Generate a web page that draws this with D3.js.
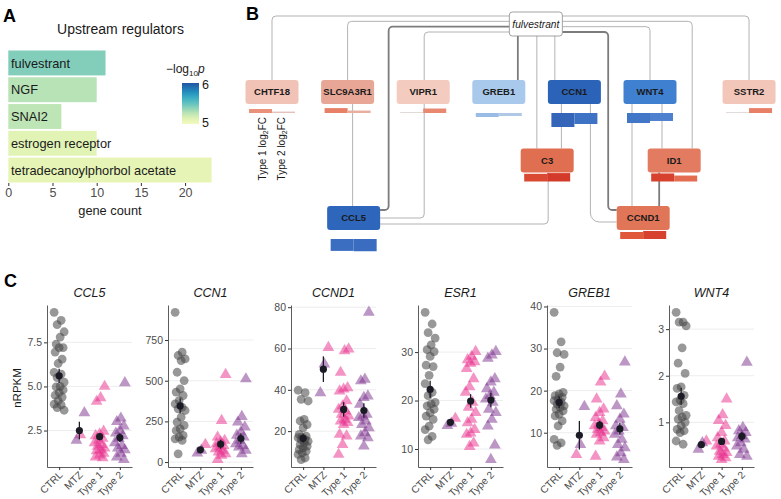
<!DOCTYPE html>
<html>
<head>
<meta charset="utf-8">
<script src="https://cdn.jsdelivr.net/npm/d3@7"></script>
<style>
  body { margin: 0; background: #fff; }
  text { font-family: "Liberation Sans", Arial, Helvetica, sans-serif; }
</style>
</head>
<body>
<svg id="fig" width="781" height="499"></svg>
<script>
// ---------- A: upstream regulators
var regulators = ['fulvestrant', 'NGF', 'SNAI2', 'estrogen receptor', 'tetradecanoylphorbol acetate']
var geneCount = [11, 10, 6, 10, 23]
var negLogP = [5.41, 5.25, 5.23, 5.075, 5.045]
var countTicks = [0, 5, 10, 15, 20]
var legendTicks = [5, 6]

// ---------- B: fulvestrant network
var geneNodes = ['CHTF18', 'SLC9A3R1', 'VIPR1', 'GREB1', 'CCN1', 'WNT4', 'SSTR2', 'C3', 'ID1', 'CCND1', 'CCL5']
var type1FC = [0.57, 0.7, 0.05, -0.57, -2.0, -1.43, 0.04, 1.1, 1.15, 1.0, -1.7]
var type2FC = [0.2, 0.35, 0.64, -0.43, -1.57, -1.14, 0.7, 1.2, 0.85, 1.15, -1.75]
var edges = [
  ['fulvestrant', 'CHTF18', 1], ['fulvestrant', 'SLC9A3R1', 1], ['fulvestrant', 'CCL5', 2],
  ['fulvestrant', 'VIPR1', 1], ['fulvestrant', 'GREB1', 2], ['fulvestrant', 'C3', 1],
  ['fulvestrant', 'CCN1', 1], ['fulvestrant', 'WNT4', 1], ['fulvestrant', 'ID1', 1],
  ['fulvestrant', 'SSTR2', 1], ['fulvestrant', 'CCND1', 2],
  ['SLC9A3R1', 'CCL5', 1], ['VIPR1', 'CCL5', 1], ['C3', 'CCL5', 1], ['CCN1', 'C3', 1],
  ['CCN1', 'CCND1', 1], ['WNT4', 'CCND1', 1], ['WNT4', 'ID1', 1], ['ID1', 'CCND1', 2]
]

// ---------- C: expression per group
var genes = ['CCL5', 'CCN1', 'CCND1', 'ESR1', 'GREB1', 'WNT4']
var groups = ['CTRL', 'MTZ', 'Type 1', 'Type 2']
var ctrlValues = [
  [9.2, 8.75, 8.5, 8.1, 7.8, 7.4, 7.2, 7.2, 6.95, 6.55, 6.3, 5.8, 5.7, 5.5, 5.25, 5.0, 4.97, 4.8, 4.65, 4.5, 4.4, 4.2, 4.0, 3.95, 3.8, 3.65],
  [920, 675, 655, 634, 624, 552, 501, 450, 430, 409, 378, 358, 337, 327, 317, 276, 245, 225, 204, 194, 164, 153, 143, 133, 51],
  [39.8, 38.6, 35.4, 34.6, 25.7, 24.9, 23.2, 21.6, 18.4, 17.6, 17.1, 16.8, 15.9, 15.9, 15.1, 14.3, 13.5, 12.7, 11.9, 11.1, 10.3, 9.5, 8.7, 7.0, 6.2],
  [38.2, 35.8, 34, 32.9, 31.5, 30.5, 30.1, 29.1, 27.3, 27, 25.2, 23.5, 21.7, 21, 19.6, 19.3, 18.9, 18.2, 17.5, 16.8, 16.1, 14.7, 14, 12.6, 11.9],
  [38.6, 31.6, 29, 28.6, 25.6, 23.4, 19.6, 19.2, 18.8, 18.4, 18, 17.6, 17.2, 16.8, 16.4, 16, 15.6, 15.2, 14.4, 14, 12.8, 11.6, 8.4, 7.6, 7],
  [3.36, 3.15, 3.15, 3.07, 2.6, 2.27, 2.05, 1.76, 1.73, 1.58, 1.47, 1.44, 1.4, 1.25, 1.15, 1.11, 1.07, 1.0, 0.93, 0.85, 0.82, 0.78, 0.6, 0.53]
]
var mtzValues = [
  [3.5, 2.25, 1.95], [108, 72, 55], [60.5, 52.5, 38.5],
  [16.3, 15.3, 14.8], [16.2, 7.2, 4.8], [0.6, 0.56, 0.42]
]
var mtzSubtype = [[2, 1, 2], [1, 2, 2], [1, 2, 2], [1, 2, 2], [2, 2, 1], [1, 2, 2]]
var type1Values = [
  [5.0, 4.35, 4.15, 2.45, 2.3, 2.2, 2.05, 1.95, 1.8, 1.7, 1.6, 1.5, 1.4, 1.35, 1.2, 1.1, 1.0, 0.95],
  [538, 255, 153, 133, 123, 112, 102, 92, 82, 72, 61, 51, 41, 15],
  [59.7, 58.9, 48.4, 41, 40.3, 39.4, 34.6, 32.2, 30.5, 29.7, 28.1, 27.3, 25.7, 24.9, 24.1, 23.2, 18.4, 17.6, 13.5, 8.7],
  [30.1, 29.1, 28.4, 28, 27.7, 26.6, 24.5, 22.8, 21.7, 19.6, 18.6, 17.5, 16.1, 15.4, 14, 13.3, 13, 11.2, 10.5],
  [23.4, 22, 18, 15.6, 14.8, 13.6, 12.8, 12, 11.6, 11.2, 10.8, 10.4, 10, 9.6, 8.8, 8, 4.4],
  [1.5, 1.16, 1.04, 0.93, 0.78, 0.67, 0.6, 0.53, 0.49, 0.45, 0.38, 0.35, 0.31, 0.27, 0.24, 0.2]
]
var type2Values = [
  [5.2, 3.2, 3.0, 2.75, 2.5, 2.35, 2.2, 2.05, 1.8, 1.65, 1.5, 1.4, 1.2, 1.0, 0.85],
  [511, 280, 245, 215, 184, 164, 153, 133, 112, 102, 92, 72, 51],
  [77.5, 45.1, 44.3, 37, 36.2, 33, 28.1, 27.3, 26.5, 24.9, 23.2, 21.6, 19.2, 17.6, 16.8, 12.7],
  [30.1, 29.4, 28.7, 24.5, 23.8, 22.4, 21.7, 21, 20.3, 19.6, 18.2, 17.5, 16.1, 14.7, 10.8, 7.8],
  [26.8, 19.2, 16.4, 14.4, 13.2, 11.6, 11.2, 10.4, 9.6, 8.4, 7.2, 6.4, 5.2, 4.2, 3.6],
  [2.29, 0.89, 0.82, 0.78, 0.71, 0.67, 0.64, 0.56, 0.49, 0.42, 0.31, 0.27]
]
// mean and standard error per group (CTRL, MTZ, Type 1, Type 2)
var groupMeans = [[5.6, 2.5, 2.15, 2.1], [345, 75, 110, 145], [16.5, 50, 30.5, 30], [22.3, 15.5, 19.9, 20.1], [17.2, 9.4, 11.8, 10.9], [1.56, 0.52, 0.59, 0.7]]
var groupSE = [[0.4, 0.5, 0.2, 0.25], [45, 10, 28, 32], [2, 6.2, 3.5, 3.5], [1.8, 0.5, 1.4, 1.5], [1.4, 3.4, 1, 1.4], [0.18, 0.04, 0.07, 0.1]]
var yTicks = [[2.5, 5, 7.5], [0, 250, 500, 750], [20, 40, 60, 80], [10, 20, 30], [10, 20, 30, 40], [1, 2, 3]]

var svg = d3.select('#fig')

function panelLabel(t, x, y) {
  svg.append('text').attr('x', x).attr('y', y).text(t)
    .attr('font-size', 18).attr('font-weight', 'bold').attr('fill', '#000')
}

// ================= A
panelLabel('A', 3, 22)
var gA = svg.append('g')
var xA = d3.scaleLinear().domain([0, 23]).range([8.3, 211.6])
var yA = d3.scaleBand().domain(regulators).range([50.5, 182.5]).paddingInner(0.07)
var pColor = d3.scaleSequential(function (t) { return d3.interpolateYlGnBu(0.08 + 0.7 * t) }).domain([4.95, 6.05])

gA.append('text').attr('x', 120.5).attr('y', 33.5).attr('text-anchor', 'middle')
  .attr('font-size', 14).attr('fill', '#1a1a1a').text('Upstream regulators')

gA.selectAll('rect.bar').data(regulators).enter().append('rect')
  .attr('class', 'bar')
  .attr('x', xA(0))
  .attr('y', function (d) { return yA(d) })
  .attr('width', function (d, i) { return xA(geneCount[i]) - xA(0) })
  .attr('height', yA.bandwidth())
  .attr('fill', function (d, i) { return pColor(negLogP[i]) })

gA.selectAll('text.lab').data(regulators).enter().append('text')
  .attr('class', 'lab')
  .attr('x', 11)
  .attr('y', function (d) { return yA(d) + yA.bandwidth() / 2 })
  .attr('dy', '0.36em')
  .attr('font-size', 12.8).attr('fill', '#1a1a1a')
  .text(function (d) { return d })

var axA = gA.append('g').attr('transform', 'translate(0,183)')
  .call(d3.axisBottom(xA).tickValues(countTicks).tickSize(3).tickPadding(2))
axA.select('.domain').remove()
axA.selectAll('line').attr('stroke', '#333')
axA.selectAll('text').attr('font-size', 12.5).attr('fill', '#4d4d4d')
gA.append('text').attr('x', xA(11.5)).attr('y', 215).attr('text-anchor', 'middle')
  .attr('font-size', 12.8).attr('fill', '#1a1a1a').text('gene count')

// legend
var grad = svg.append('defs').append('linearGradient').attr('id', 'pgrad')
  .attr('x1', 0).attr('y1', 1).attr('x2', 0).attr('y2', 0)
d3.range(0, 1.01, 0.1).forEach(function (t) {
  grad.append('stop').attr('offset', t).attr('stop-color', pColor(4.95 + t * 1.1))
})
var yLeg = d3.scaleLinear().domain([4.95, 6.05]).range([124, 83])
gA.append('rect').attr('x', 182).attr('y', yLeg(6.05)).attr('width', 17)
  .attr('height', yLeg(4.95) - yLeg(6.05)).attr('fill', 'url(#pgrad)')
gA.selectAll('text.leg').data(legendTicks).enter().append('text')
  .attr('x', 202).attr('y', function (d) { return yLeg(d) }).attr('dy', '0.36em')
  .attr('font-size', 12.5).attr('fill', '#1a1a1a').text(function (d) { return d })
var lt = gA.append('text').attr('x', 166).attr('y', 73).attr('font-size', 12).attr('fill', '#1a1a1a')
lt.append('tspan').text('\u2212log')
lt.append('tspan').attr('font-size', 8).attr('dy', 3).text('10')
lt.append('tspan').attr('font-style', 'italic').attr('dy', -3).text('p')

// ================= B
panelLabel('B', 246, 20)
var gB = svg.append('g')
var nodeGrid = {
  fulvestrant: [3.49, 0], CHTF18: [0, 1], SLC9A3R1: [1, 1], VIPR1: [2, 1], GREB1: [3, 1],
  CCN1: [4, 1], WNT4: [5, 1], SSTR2: [6.31, 1], C3: [3.64, 2], ID1: [5.32, 2],
  CCND1: [4.91, 3], CCL5: [1.08, 3]
}
var xB = d3.scaleLinear().domain([0, 1]).range([272, 347.6])
var yB = d3.scaleLinear().domain([0, 1, 2, 3]).range([24, 92, 160.5, 218])
var boxW = 53, boxH = 24
function pos(n) { return [xB(nodeGrid[n][0]), yB(nodeGrid[n][1])] }

// edge routing: lane = horizontal track leaving fulvestrant, drop = vertical offset from source centre,
// dx = offset of vertical run from target centre, side = enter target from its side at this y offset
var laneY = d3.scaleLinear().domain([0, 3]).range([16, 32])
var routes = {
  'fulvestrant-CHTF18': { lane: 0 }, 'fulvestrant-SLC9A3R1': { lane: 1 },
  'fulvestrant-CCL5': { lane: 2, dx: 35, side: -8 }, 'fulvestrant-VIPR1': { lane: 3, dx: 1 },
  'fulvestrant-GREB1': { drop: -18 }, 'fulvestrant-C3': { drop: 1 }, 'fulvestrant-CCN1': { drop: 19 },
  'fulvestrant-WNT4': { lane: 2 }, 'fulvestrant-ID1': { lane: 1, dx: 18 },
  'fulvestrant-SSTR2': { lane: 0 }, 'fulvestrant-CCND1': { lane: 3, dx: -35, side: -8 },
  'SLC9A3R1-CCL5': { drop: 5 }, 'VIPR1-CCL5': { drop: 1, side: 0 }, 'C3-CCL5': { drop: 1, side: 6 },
  'CCN1-C3': { drop: -13 }, 'CCN1-CCND1': { drop: 16, side: 4, r: 9 },
  'WNT4-CCND1': { drop: -18 }, 'WNT4-ID1': { drop: 12 }, 'ID1-CCND1': { drop: -15 }
}

function roundedPath(pts, r) {
  var p = d3.path()
  p.moveTo(pts[0][0], pts[0][1])
  for (var i = 1; i < pts.length - 1; i++) p.arcTo(pts[i][0], pts[i][1], pts[i + 1][0], pts[i + 1][1], r)
  p.lineTo(pts[pts.length - 1][0], pts[pts.length - 1][1])
  return p.toString()
}

function edgePath(e) {
  var rt = routes[e[0] + '-' + e[1]], s = pos(e[0]), t = pos(e[1]), pts
  var x1, y0
  if (rt.lane !== undefined) {
    y0 = laneY(rt.lane)
    var sx = t[0] < s[0] ? s[0] - boxW / 2 : s[0] + boxW / 2
    x1 = t[0] + (rt.dx || 0)
    pts = [[sx, y0], [x1, y0]]
  } else {
    x1 = s[0] + rt.drop
    pts = [[x1, s[1] + boxH / 2]]
  }
  if (rt.side !== undefined) {
    var ex = x1 > t[0] ? t[0] + boxW / 2 : t[0] - boxW / 2
    pts.push([x1, t[1] + rt.side], [ex, t[1] + rt.side])
  } else {
    pts.push([x1, t[1] - boxH / 2])
  }
  return roundedPath(pts, rt.r || 4)
}

gB.selectAll('path.edge').data(edges).enter().append('path')
  .attr('class', 'edge')
  .attr('d', edgePath)
  .attr('fill', 'none')
  .attr('stroke', function (d) { return d[2] > 1 ? '#7c7c7c' : '#b3b3b3' })
  .attr('stroke-width', function (d) { return d[2] > 1 ? 1.8 : 1 })

var nodeMean = geneNodes.map(function (g, i) { return (type1FC[i] + type2FC[i]) / 2 })
var nodeColor = d3.scaleLinear()
  .domain([-1.8, -1.3, -0.5, 0, 0.35, 0.53, 1.0, 1.15])
  .range(['#2a62b7', '#3d7fd0', '#a9c9ec', '#f4f4f4', '#f3cabe', '#e8a595', '#e27b60', '#df6f50'])
var fcColor = d3.scaleLinear()
  .domain([-2, -1.5, -1, -0.5, 0, 0.5, 1, 1.2])
  .range(['#3465b9', '#3f74c6', '#5286d2', '#a6c4e8', '#dddddd', '#ec9a85', '#e0593a', '#d43a2a'])
var fcH = d3.scaleLinear().domain([0, 2]).range([0, 14])

var gn = gB.selectAll('g.node').data(geneNodes).enter().append('g')
  .attr('transform', function (d) { var p = pos(d); return 'translate(' + p[0] + ',' + p[1] + ')' })
gn.append('rect').attr('x', -boxW / 2).attr('y', -boxH / 2).attr('width', boxW).attr('height', boxH)
  .attr('rx', 3).attr('fill', function (d, i) { return nodeColor(nodeMean[i]) })
gn.append('text').attr('text-anchor', 'middle').attr('dy', '0.36em')
  .attr('font-size', 9.5).attr('font-weight', 'bold').attr('fill', '#1a1a1a')
  .text(function (d) { return d })
// log2FC bars under each node: Type 1 left, Type 2 right
;[type1FC, type2FC].forEach(function (fc, k) {
  gn.append('rect')
    .attr('x', k === 0 ? -23 : 0).attr('width', 23)
    .attr('y', function (d, i) { var h = Math.max(fcH(Math.abs(fc[i])), 0.9); return fc[i] > 0 ? boxH / 2 + 9 - h : boxH / 2 + 9 })
    .attr('height', function (d, i) { return Math.max(fcH(Math.abs(fc[i])), 0.9) })
    .attr('fill', function (d, i) { return fcColor(fc[i]) })
})

var fp = pos('fulvestrant')
gB.append('rect').attr('x', fp[0] - boxW / 2).attr('y', fp[1] - boxH / 2).attr('width', boxW).attr('height', boxH)
  .attr('rx', 3).attr('fill', '#fff').attr('stroke', '#8a8a8a').attr('stroke-width', 0.8)
gB.append('text').attr('x', fp[0]).attr('y', fp[1]).attr('dy', '0.36em').attr('text-anchor', 'middle')
  .attr('font-size', 10.2).attr('font-style', 'italic').attr('fill', '#1a1a1a').text('fulvestrant')

;['Type 1', 'Type 2'].forEach(function (t, k) {
  var tx = gB.append('text').attr('transform', 'translate(' + (266 + k * 18.5) + ',117) rotate(-90)')
    .attr('text-anchor', 'end').attr('font-size', 10).attr('fill', '#1a1a1a')
  tx.append('tspan').text(t + ' log')
  tx.append('tspan').attr('font-size', 7).attr('dy', 2).text('2')
  tx.append('tspan').attr('dy', -2).text('FC')
})

// ================= C
panelLabel('C', 4, 287)
var panelLeft = [47, 168, 291, 418, 547, 669]
var panelW = 85, panelTop = 305, panelBottom = 467
var typeColor = { 1: '#e7298a', 2: '#7a2d8c' }
var tri = d3.symbol().type(d3.symbolTriangle).size(60)
function jit(i) { return ((i * 7) % 11 - 5) * 1.0 }

svg.append('text').attr('transform', 'translate(21,388) rotate(-90)').attr('text-anchor', 'middle')
  .attr('font-size', 11.5).attr('fill', '#1a1a1a').text('nRPKM')

genes.forEach(function (gene, gi) {
  var x0 = panelLeft[gi]
  var g = svg.append('g')
  var all = [].concat(ctrlValues[gi], mtzValues[gi], type1Values[gi], type2Values[gi])
  var ext = d3.extent(all), pad = (ext[1] - ext[0]) * 0.05
  var y = d3.scaleLinear().domain([ext[0] - pad, ext[1] + pad]).range([panelBottom, panelTop])
  var x = d3.scalePoint().domain(groups).range([x0, x0 + panelW]).padding(0.6)

  g.selectAll('line.grid').data(yTicks[gi]).enter().append('line')
    .attr('x1', x0).attr('x2', x0 + panelW)
    .attr('y1', function (d) { return y(d) }).attr('y2', function (d) { return y(d) })
    .attr('stroke', '#ebebeb').attr('stroke-width', 0.9)

  var fmt = gi === 0 ? d3.format('.1f') : d3.format('d')
  var ay = g.append('g').attr('transform', 'translate(' + x0 + ',0)')
    .call(d3.axisLeft(y).tickValues(yTicks[gi]).tickFormat(fmt).tickSize(3).tickSizeOuter(0).tickPadding(2))
  var ax = g.append('g').attr('transform', 'translate(0,' + panelBottom + ')')
    .call(d3.axisBottom(x).tickSize(3).tickSizeOuter(0))
  ;[ay, ax].forEach(function (a) {
    a.select('.domain').attr('stroke', '#333').attr('stroke-width', 0.8)
    a.selectAll('.tick line').attr('stroke', '#333')
    a.selectAll('text').attr('font-size', 10.5).attr('fill', '#4d4d4d')
  })
  ax.selectAll('text').attr('y', 0).attr('dy', 0).attr('text-anchor', 'end')
    .attr('transform', 'translate(3.5,8.5) rotate(-45)').attr('font-size', 10.2)

  g.append('text').attr('x', x0 + panelW / 2).attr('y', 297).attr('text-anchor', 'middle')
    .attr('font-size', 12.5).attr('font-style', 'italic').attr('fill', '#1a1a1a').text(gene)

  g.selectAll('circle.ctrl').data(ctrlValues[gi]).enter().append('circle')
    .attr('cx', function (d, i) { return x('CTRL') + jit(i) })
    .attr('cy', function (d) { return y(d) })
    .attr('r', 4.4).attr('fill', '#444').attr('fill-opacity', 0.55)

  var trisData = []
  mtzValues[gi].forEach(function (v, i) { trisData.push({ g: 'MTZ', v: v, t: mtzSubtype[gi][i], i: i }) })
  type1Values[gi].forEach(function (v, i) { trisData.push({ g: 'Type 1', v: v, t: 1, i: i }) })
  type2Values[gi].forEach(function (v, i) { trisData.push({ g: 'Type 2', v: v, t: 2, i: i }) })
  g.selectAll('path.tri').data(trisData).enter().append('path')
    .attr('d', tri)
    .attr('transform', function (d) { return 'translate(' + (x(d.g) + jit(d.i + 3)) + ',' + y(d.v) + ')' })
    .attr('fill', function (d) { return typeColor[d.t] }).attr('fill-opacity', 0.5)

  groups.forEach(function (grp, k) {
    var m = groupMeans[gi][k], se = groupSE[gi][k]
    g.append('line').attr('x1', x(grp)).attr('x2', x(grp))
      .attr('y1', y(m - se)).attr('y2', y(m + se)).attr('stroke', '#1b1b26').attr('stroke-width', 1.3)
    g.append('circle').attr('cx', x(grp)).attr('cy', y(m)).attr('r', 3.6).attr('fill', '#1b1b26')
  })
})
</script>
</body>
</html>
